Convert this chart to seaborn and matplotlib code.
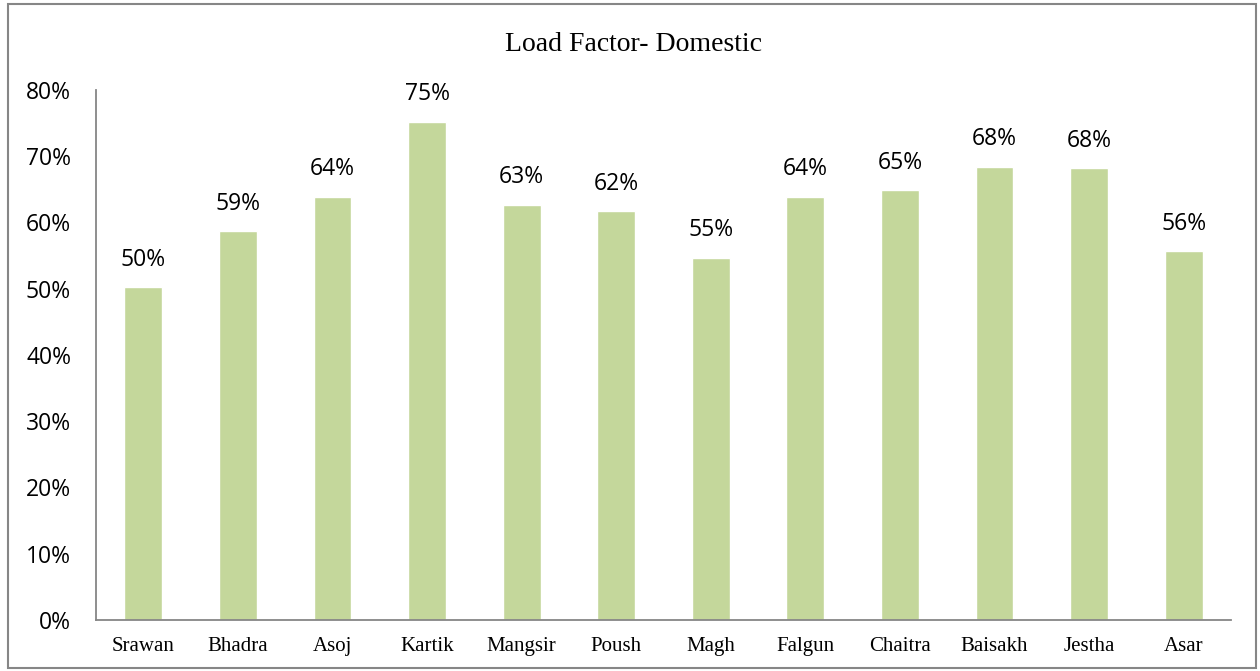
import matplotlib
matplotlib.use("Agg")
import matplotlib.pyplot as plt
import seaborn as sns
import pandas as pd
from matplotlib.patches import Rectangle
from matplotlib.ticker import FuncFormatter

months = ["Srawan", "Bhadra", "Asoj", "Kartik", "Mangsir", "Poush", "Magh",
          "Falgun", "Chaitra", "Baisakh", "Jestha", "Asar"]
load_factor = [0.502, 0.587, 0.639, 0.752, 0.627, 0.617, 0.547,
               0.639, 0.649, 0.684, 0.682, 0.557]
y_ticks = [0, 0.1, 0.2, 0.3, 0.4, 0.5, 0.6, 0.7, 0.8]
title = "Load Factor- Domestic"

df = pd.DataFrame({"month": months, "lf": load_factor})

sns.set_theme(style="white")
plt.rcParams["text.color"] = "black"
plt.rcParams["xtick.color"] = "black"
plt.rcParams["ytick.color"] = "black"
fig = plt.figure(figsize=(12.6, 6.71), dpi=100)
ax = fig.add_axes([0.0762, 0.076, 0.9008, 0.790])

sns.barplot(data=df, x="month", y="lf", color="#C4D79B", saturation=1,
            width=0.4, ax=ax)

ax.set_ylim(0, 0.8)
ax.set_xlim(-0.5, len(months) - 0.5)
ax.set_yticks(y_ticks)
ax.yaxis.set_major_formatter(FuncFormatter(lambda v, p: f"{v*100:.0f}%"))
ax.set_xlabel("")
ax.set_ylabel("")

for lbl in ax.get_yticklabels():
    lbl.set_fontfamily("Open Sans")
    lbl.set_fontsize(16.5)
    lbl.set_color("black")
for lbl in ax.get_xticklabels():
    lbl.set_fontfamily("Liberation Serif")
    lbl.set_fontsize(15)
    lbl.set_color("black")
ax.tick_params(axis="y", length=0, pad=18)
ax.tick_params(axis="x", length=0, pad=12)

for s in ["top", "right"]:
    ax.spines[s].set_visible(False)
for s in ["left", "bottom"]:
    ax.spines[s].set_color("#868686")
    ax.spines[s].set_linewidth(1.3)

for cont in ax.containers:
    ax.bar_label(cont, labels=[f"{v*100:.0f}%" for v in load_factor],
                 padding=11, fontsize=16.5, fontfamily="Open Sans", color="black")

fig.text(0.503, 0.934, title, ha="center", va="center",
         fontfamily="Liberation Serif", fontsize=20, color="black")

fig.patches.append(Rectangle((0.0067, 0.004), 0.9905, 0.99, transform=fig.transFigure,
                             fill=False, edgecolor="#868686", linewidth=1.5))

fig.savefig("out.png", dpi=100)
